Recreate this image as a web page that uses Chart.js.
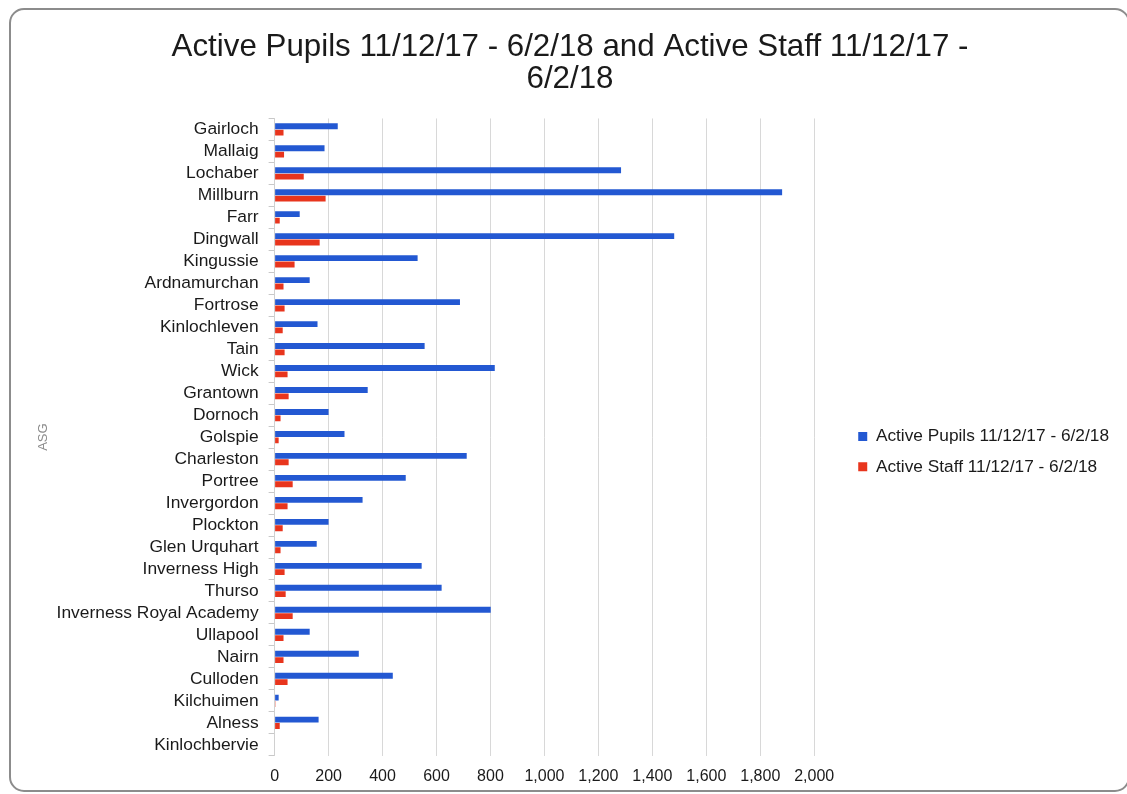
<!DOCTYPE html>
<html>
<head>
<meta charset="utf-8">
<script src="https://cdn.jsdelivr.net/npm/chart.js@4.4.0/dist/chart.umd.min.js"></script>
<style>
  html, body { margin: 0; padding: 0; background: #fff; overflow: hidden; }
  .frame {
    position: absolute; left: 9px; top: 8px;
    width: 1121px; height: 784px;
    border: 2px solid #8c8c8c; border-radius: 15px;
    box-sizing: border-box; overflow: hidden;
  }
  canvas { display: block; }
</style>
</head>
<body>
<div class="frame"><canvas id="chart"></canvas></div>
<script>
// ASG names, top to bottom
const schools = [
  "Gairloch", "Mallaig", "Lochaber", "Millburn", "Farr", "Dingwall",
  "Kingussie", "Ardnamurchan", "Fortrose", "Kinlochleven", "Tain", "Wick",
  "Grantown", "Dornoch", "Golspie", "Charleston", "Portree", "Invergordon",
  "Plockton", "Glen Urquhart", "Inverness High", "Thurso",
  "Inverness Royal Academy", "Ullapool", "Nairn", "Culloden", "Kilchuimen",
  "Alness", "Kinlochbervie"
];
const activePupils = [
  234, 185, 1284, 1881, 93, 1481,
  530, 130, 687, 159, 556, 816,
  345, 200, 259, 712, 486, 326,
  200, 156, 545, 619,
  801, 130, 312, 438, 15,
  163, 0
];
const activeStaff = [
  33, 35, 108, 189, 19, 167,
  74, 33, 37, 30, 37, 48,
  52, 22, 15, 52, 67, 48,
  30, 22, 37, 41,
  67, 33, 33, 48, 3,
  19, 0
];
const xMax = 2000;
const xStep = 200;

const FONT = "'Liberation Sans', Arial, sans-serif";
const LEGEND_SHIFT = 31;
const TITLE_SHIFT = 8;

// legend sits a bit away from the plot: space is reserved by padding, then it slides back right
const nudgeBoxes = {
  id: "nudgeBoxes",
  afterLayout(chart){
    const lg = chart.legend;
    if(lg){
      lg.left += LEGEND_SHIFT;
      lg.right += LEGEND_SHIFT;
    }
    const tb = chart.titleBlock;
    if(tb){
      tb.left += TITLE_SHIFT;
      tb.right += TITLE_SHIFT;
    }
  }
};

const ctx = document.getElementById("chart");
new Chart(ctx, {
  type: "bar",
  data: {
    labels: schools,
    datasets: [
      {
        label: "Active Pupils 11/12/17 - 6/2/18",
        data: activePupils,
        backgroundColor: "#2358d2",
        categoryPercentage: 0.58,
        barPercentage: 0.92
      },
      {
        label: "Active Staff 11/12/17 - 6/2/18",
        data: activeStaff,
        backgroundColor: "#e8351d",
        categoryPercentage: 0.58,
        barPercentage: 0.92
      }
    ]
  },
  plugins: [nudgeBoxes],
  options: {
    indexAxis: "y",
    responsive: true,
    maintainAspectRatio: false,
    animation: false,
    layout: { padding: { left: 25, right: 40, top: 10, bottom: -7 } },
    plugins: {
      title: {
        display: true,
        text: ["Active Pupils 11/12/17 - 6/2/18 and Active Staff 11/12/17 -", "6/2/18"],
        color: "#1a1a1a",
        font: { family: FONT, size: 31.3, weight: "normal", lineHeight: 1.03 },
        padding: { top: 11, bottom: 23 }
      },
      legend: {
        position: "right",
        maxWidth: 400,
        title: {
          // empty title only pushes the items down
          display: true,
          text: " ",
          font: { size: 1 },
          padding: { top: 85, bottom: 0 }
        },
        labels: {
          color: "#1a1a1a",
          font: { family: FONT, size: 17.3 },
          boxWidth: 9,
          boxHeight: 9,
          padding: 13
        }
      },
      tooltip: { enabled: false }
    },
    scales: {
      x: {
        min: 0,
        max: xMax,
        ticks: {
          stepSize: xStep,
          color: "#1a1a1a",
          font: { family: FONT, size: 16 },
          padding: 11
        },
        grid: { color: "#d8d8d8", drawTicks: false },
        border: { display: false }
      },
      y: {
        title: {
          display: true,
          text: "ASG",
          color: "#8c8c8c",
          font: { family: FONT, size: 13 },
          padding: { top: 0, bottom: -5 }
        },
        ticks: {
          color: "#1a1a1a",
          font: { family: FONT, size: 17.4 },
          autoSkip: false,
          padding: 10
        },
        grid: {
          drawOnChartArea: false,
          drawTicks: true,
          tickLength: 6,
          color: "#c8c8c8"
        },
        border: { display: true, color: "#d0d0d0" }
      }
    }
  }
});
</script>
</body>
</html>
